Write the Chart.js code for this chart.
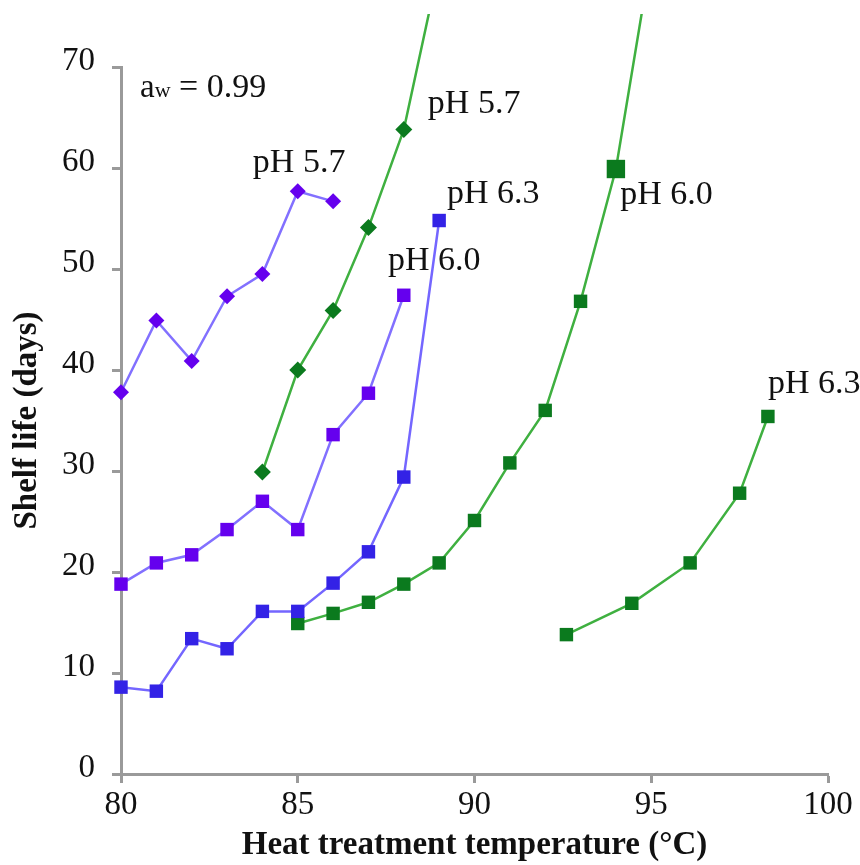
<!DOCTYPE html>
<html>
<head>
<meta charset="utf-8">
<title>Shelf life vs heat treatment temperature</title>
<script src="https://cdn.jsdelivr.net/npm/chart.js@4.4.1/dist/chart.umd.min.js"></script>
<style>
  html, body { margin: 0; padding: 0; background: #fff; }
  #wrap { width: 860px; height: 865px; }
</style>
</head>
<body>
<div id="wrap"><canvas id="shelfChart" width="860" height="865"></canvas></div>
<script>
// shelf life (days) against heat treatment temperature (°C), aw = 0.99
const tempPurple57 = [80, 81, 82, 83, 84, 85, 86];
const lifePurple57 = [37.8, 44.9, 40.9, 47.3, 49.5, 57.7, 56.7];

const tempPurple60 = [80, 81, 82, 83, 84, 85, 86, 87, 88];
const lifePurple60 = [18.8, 20.9, 21.7, 24.2, 27.0, 24.2, 33.6, 37.7, 47.4];

const tempBlue63 = [80, 81, 82, 83, 84, 85, 86, 87, 88, 89];
const lifeBlue63 = [8.6, 8.2, 13.4, 12.4, 16.1, 16.1, 18.9, 22.0, 29.4, 54.8];

const tempGreen57 = [84, 85, 86, 87, 88, 89];
const lifeGreen57 = [29.9, 40.0, 45.9, 54.1, 63.8, 80];

const tempGreen60 = [85, 86, 87, 88, 89, 90, 91, 92, 93, 94, 95];
const lifeGreen60 = [14.9, 15.9, 17.0, 18.8, 20.9, 25.1, 30.8, 36.0, 46.8, 59.9, 81];

const tempGreen63 = [92.6, 94.45, 96.1, 97.5, 98.3];
const lifeGreen63 = [13.8, 16.9, 20.9, 27.8, 35.4];

const xTicks = [80, 85, 90, 95, 100];
const yTicks = [0, 10, 20, 30, 40, 50, 60, 70];

const serif = '"Liberation Serif", "Times New Roman", serif';
const axisGrey = '#9a9a9a';

function pts(xs, ys) {
    return xs.map((x, i) => ({ x: x, y: ys[i] }));
}

// text next to each curve, anchored in data units (left edge, baseline)
const notes = [
    { text: 'pH 5.7', x: 83.73, y: 59.6 },
    { text: 'pH 6.0', x: 87.55, y: 49.9 },
    { text: 'pH 6.3', x: 89.22, y: 56.5 },
    { text: 'pH 5.7', x: 88.68, y: 65.4 },
    { text: 'pH 6.0', x: 94.12, y: 56.4 },
    { text: 'pH 6.3', x: 98.30, y: 37.7 }
];

const notePlugin = {
    id: 'curveNotes',
    beforeDatasetsDraw(chart) {
        const ctx = chart.ctx;
        const xs = chart.scales.x, ys = chart.scales.y;
        ctx.save();
        ctx.fillStyle = '#111';
        ctx.textBaseline = 'alphabetic';
        ctx.textAlign = 'left';
        ctx.font = '34px ' + serif;
        notes.forEach(n => {
            ctx.fillText(n.text, xs.getPixelForValue(n.x), ys.getPixelForValue(n.y));
        });

        // water activity, "a" with a subscript w
        let px = xs.getPixelForValue(80.54);
        const py = ys.getPixelForValue(67.0);
        ctx.font = '33px ' + serif;
        ctx.fillText('a', px, py);
        px += ctx.measureText('a').width;
        ctx.font = '22px ' + serif;
        ctx.fillText('w', px, py);
        px += ctx.measureText('w').width;
        ctx.font = '34px ' + serif;
        ctx.fillText(' = 0.99', px, py);
        ctx.restore();
    }
};

const violetLine = '#8270ff';
const violetMark = '#6500ee';
const blueLine = '#7466ff';
const blueMark = '#3322e6';
const greenLine = '#3fb040';
const greenMark = '#0b7a1e';

const clipBox = { left: 20, top: 53, right: 40, bottom: 20 };

function series(label, data, line, mark, shape, radius) {
    return {
        label: label,
        data: data,
        borderColor: line,
        borderWidth: 2.5,
        backgroundColor: mark,
        pointBackgroundColor: mark,
        pointBorderColor: mark,
        pointBorderWidth: 0,
        pointStyle: shape,
        pointRadius: radius,
        tension: 0,
        clip: clipBox
    };
}

const datasets = [
    series('pH 5.7', pts(tempPurple57, lifePurple57), violetLine, violetMark, 'rectRot', 8),
    series('pH 6.0', pts(tempPurple60, lifePurple60), violetLine, violetMark, 'rect', 9.5),
    series('pH 6.3', pts(tempBlue63, lifeBlue63), blueLine, blueMark, 'rect', 9.5),
    series('pH 5.7', pts(tempGreen57, lifeGreen57), greenLine, greenMark, 'rectRot', 8.5),
    // the 94 °C point of this curve is plotted with a bigger marker
    series('pH 6.0', pts(tempGreen60, lifeGreen60), greenLine, greenMark, 'rect', c => c.dataIndex === 9 ? 13 : 9.5),
    series('pH 6.3', pts(tempGreen63, lifeGreen63), greenLine, greenMark, 'rect', 9.5)
];

const chart = new Chart(document.getElementById('shelfChart'), {
    type: 'line',
    data: { datasets: datasets },
    options: {
        responsive: false,
        animation: false,
        layout: { padding: { top: 67, right: 32, left: 0, bottom: 0 } },
        plugins: {
            legend: { display: false },
            tooltip: { enabled: false }
        },
        scales: {
            x: {
                type: 'linear',
                min: 80,
                max: 100,
                afterBuildTicks: s => { s.ticks = xTicks.map(v => ({ value: v })); },
                afterFit: s => { s.height = 91; },
                border: { color: axisGrey, width: 3 },
                grid: { drawOnChartArea: false, tickLength: 9, tickWidth: 3, tickColor: axisGrey },
                ticks: { color: '#111', font: { family: serif, size: 33 }, padding: 3, maxRotation: 0 },
                title: {
                    display: true,
                    text: 'Heat treatment temperature (°C)',
                    color: '#111',
                    font: { family: serif, size: 33, weight: 'bold' },
                    padding: 0
                }
            },
            y: {
                type: 'linear',
                min: 0,
                max: 70,
                afterBuildTicks: s => { s.ticks = yTicks.map(v => ({ value: v })); },
                afterFit: s => { s.width = 121; },
                border: { color: axisGrey, width: 3 },
                grid: { drawOnChartArea: false, tickLength: 9, tickWidth: 3, tickColor: axisGrey },
                ticks: { color: '#111', font: { family: serif, size: 33 }, padding: 17, labelOffset: -6 },
                title: {
                    display: true,
                    text: 'Shelf life (days)',
                    color: '#111',
                    font: { family: serif, size: 33, weight: 'bold' },
                    padding: { top: 8, bottom: 0 }
                }
            }
        }
    },
    plugins: [notePlugin]
});
</script>
</body>
</html>
